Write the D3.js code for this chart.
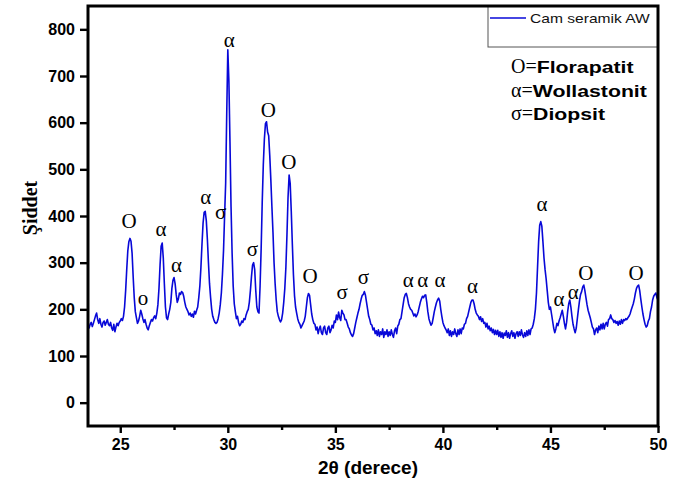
<!DOCTYPE html>
<html><head><meta charset="utf-8">
<script src="https://cdn.jsdelivr.net/npm/d3@7"></script>
<style>body{margin:0;background:#fff}svg{display:block}</style>
</head><body><svg id="c" width="684" height="481"></svg>
<script>
// ---- data ----
const twoThetaStart = 23.5;
const twoThetaStep = 0.05;
const intensity = [
165,160,168,172,163,170,178,186,192,178,170,180,168,162,172,175,166,172,178,168,
165,172,160,155,168,152,162,170,165,172,175,180,176,185,205,240,285,325,345,352,
346,320,270,225,195,182,170,175,185,198,190,180,172,178,168,160,156,165,172,178,
175,182,186,180,192,210,245,295,335,342,310,255,205,182,178,190,200,215,245,262,
268,255,232,215,222,235,232,238,236,228,215,205,200,195,188,192,185,190,183,196,
190,198,205,225,250,290,340,385,408,410,390,350,300,255,225,200,185,178,172,170,
172,180,192,210,235,275,325,400,470,620,756,690,560,420,320,250,212,195,180,185,
172,165,168,175,172,180,178,188,195,200,215,240,270,295,300,285,240,205,195,192,
250,330,430,510,565,598,602,580,572,530,478,420,365,300,255,220,195,185,178,173,
178,192,215,245,290,360,440,488,470,410,340,275,230,205,192,180,172,168,160,165,
170,175,185,205,225,234,230,210,190,178,170,168,156,162,148,158,164,150,146,160,
164,150,146,160,164,150,156,166,160,175,172,188,178,194,182,176,198,192,188,178,
178,170,162,158,150,145,142,148,160,172,182,192,200,212,222,230,232,238,230,215,
200,185,178,168,166,156,160,148,154,144,156,142,152,146,158,140,152,146,156,142,
152,144,156,146,140,154,160,148,164,168,178,180,195,210,225,232,234,225,212,205,
200,198,192,186,190,184,188,195,205,215,222,228,225,230,231,215,195,180,172,166,
170,182,195,205,214,220,224,218,200,185,172,165,160,156,150,158,144,154,142,152,
146,158,148,142,156,146,158,148,160,158,168,170,180,185,195,205,215,220,220,212,
200,192,188,185,178,184,174,180,170,172,162,170,158,164,154,160,150,157,146,155,
146,155,142,152,140,150,138,149,144,154,140,150,138,148,154,142,150,138,148,152,
142,152,144,156,145,140,150,142,154,144,156,146,158,160,168,180,200,235,290,345,
380,388,378,345,310,285,265,240,215,200,205,190,175,160,150,158,170,165,175,182,
190,198,185,170,158,172,195,212,220,205,185,168,158,150,160,180,200,218,232,238,
248,252,240,225,210,198,190,182,172,162,158,146,156,160,150,164,156,168,158,170,
158,168,172,164,178,180,188,180,178,172,176,170,174,166,175,168,178,170,178,176,
180,178,182,185,190,198,205,212,222,235,245,250,252,240,222,205,190,178,168,162,
165,175,180,195,205,220,228,232,235,225,220
];
const xTicks = [25, 30, 35, 40, 45, 50];
const xMinorTicks = [27.5, 32.5, 37.5, 42.5, 47.5];
const yTicks = [0, 100, 200, 300, 400, 500, 600, 700, 800];
const seriesName = "Cam seramik AW";
const xTitle = "2θ (derece)";
const yTitle = "Şiddet";
// peak annotations: symbol, 2θ, intensity level of the label baseline
const peakSymbols = ["O","o","α","α","α","σ","α","σ","O","O","O","σ","σ","α","α","α","α","α","α","α","O","O"];
const peakTheta   = [25.41,26.06,26.89,27.61,28.97,29.67,30.07,31.14,31.88,32.84,33.82,35.32,36.30,38.39,39.06,39.86,41.38,44.61,45.40,46.06,46.65,48.98];
const peakLevel   = [374,209,357,280,426,394,762,314,612,501,256,222,254,248,248,248,235,411,207,222,263,263];
const phaseSymbols = ["O", "α", "σ"];
const phaseNames = ["Florapatit", "Wollastonit", "Diopsit"];

// ---- chart ----
const svg = d3.select("#c");
const L = 88, R = 658, T = 6, B = 426;
const x = d3.scaleLinear().domain([23.5, 50]).range([L, R]);
const y = d3.scaleLinear().domain([-50, 850]).range([B, T]);

svg.append("defs").append("clipPath").attr("id","clip")
  .append("rect").attr("x",L).attr("y",T).attr("width",R-L).attr("height",B-T);

const pts = intensity.map((v,i)=>[twoThetaStart + i*twoThetaStep, v]);
svg.append("path").datum(pts)
  .attr("clip-path","url(#clip)")
  .attr("fill","none").attr("stroke","#0808d8").attr("stroke-width",1.6)
  .attr("stroke-linejoin","round")
  .attr("d", d3.line().x(d=>x(d[0])).y(d=>y(d[1])));

// peak labels
svg.append("g").selectAll("text").data(peakSymbols).join("text")
  .attr("x",(d,i)=>x(peakTheta[i])).attr("y",(d,i)=>y(peakLevel[i]))
  .attr("text-anchor","middle")
  .attr("font-family","'Liberation Serif','Times New Roman',serif")
  .attr("font-size",21).attr("fill","#000").text(d=>d);

// legend box
svg.append("rect").attr("x",488).attr("y",T).attr("width",R-488).attr("height",41)
  .attr("fill","#fff").attr("stroke","#555").attr("stroke-width",1);
svg.append("line").attr("x1",490).attr("x2",526).attr("y1",18).attr("y2",18)
  .attr("stroke","#0808d8").attr("stroke-width",1.6);
svg.append("text").attr("transform","translate(530,23) scale(1.2,1)")
  .attr("font-family","'Liberation Sans',Arial,sans-serif").attr("font-size",13)
  .attr("fill","#111").text(seriesName);

// phase key
phaseSymbols.forEach((s,i)=>{
  const by = 73 + i*23.5;
  const t = svg.append("text").attr("x",511).attr("y",by)
    .attr("font-family","'Liberation Serif','Times New Roman',serif")
    .attr("font-size",20).attr("fill","#000").text(s+"=");
  const w = t.node().getComputedTextLength();
  svg.append("text").attr("transform",`translate(${511+w},${by}) scale(1.25,1)`)
    .attr("font-family","'Liberation Sans',Arial,sans-serif").attr("font-weight","bold")
    .attr("font-size",17).attr("fill","#000").text(phaseNames[i]);
});

// axes
const gx = svg.append("g").attr("transform",`translate(0,${B})`)
  .call(d3.axisBottom(x).tickValues(xTicks).tickSize(7).tickPadding(6).tickFormat(d3.format("d")));
const gxm = svg.append("g").attr("transform",`translate(0,${B})`)
  .call(d3.axisBottom(x).tickValues(xMinorTicks).tickSize(4).tickFormat(""));
const gy = svg.append("g").attr("transform",`translate(${L},0)`)
  .call(d3.axisLeft(y).tickValues(yTicks).tickSize(8).tickPadding(5).tickFormat(d3.format("d")));
[gx,gxm,gy].forEach(g=>{
  g.select(".domain").remove();
  g.selectAll("line").attr("stroke","#000").attr("stroke-width",2.4);
  g.selectAll("text").attr("font-family","'Liberation Sans',Arial,sans-serif")
    .attr("font-weight","bold").attr("font-size",16).attr("fill","#000");
});

// frame
svg.append("rect").attr("x",L).attr("y",T).attr("width",R-L).attr("height",B-T)
  .attr("fill","none").attr("stroke","#000").attr("stroke-width",3);

// titles
svg.append("text").attr("x",368).attr("y",474).attr("text-anchor","middle")
  .attr("font-family","'Liberation Sans',Arial,sans-serif").attr("font-weight","bold")
  .attr("font-size",19).attr("fill","#000").text(xTitle);
svg.append("text").attr("transform","translate(37,208) rotate(-90)").attr("text-anchor","middle")
  .attr("font-family","'Liberation Serif','Times New Roman',serif").attr("font-weight","bold")
  .attr("font-size",20).attr("fill","#000").text(yTitle);
</script></body></html>
